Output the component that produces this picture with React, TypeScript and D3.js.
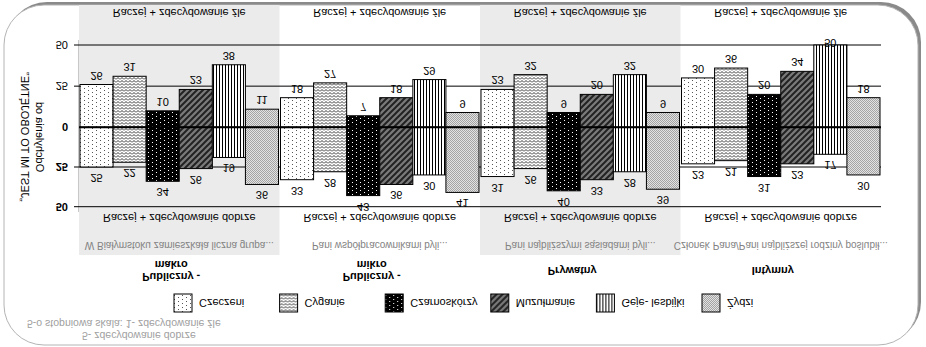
import * as d3 from "d3";

// the whole chart is shown mirrored top-to-bottom, so it is drawn upright and flipped at the end
const groups = ["Publiczny - makro", "Publiczny - mikro", "Prywatny", "Intymny"];
const groupLines = [["Publiczny -", "makro"], ["Publiczny -", "mikro"], ["Prywatny"], ["Intymny"]];
const questions = [
  "W Białymstoku zamieszkała liczna grupa...",
  "Pani współpracownikami byli...",
  "Pani najbliższymi sąsiadami byli...",
  "Członek Pana/Pani najbliższej rodziny poślubił...",
];
const series = ["Czeczeni", "Cyganie", "Czarnoskórzy", "Muzułmanie", "Geje- lesbijki", "Żydzi"];

// "Raczej + zdecydowanie źle"
const badMakro = [26, 31, 10, 23, 38, 11];
const badMikro = [18, 27, 7, 18, 29, 9];
const badPrywatny = [23, 32, 9, 20, 32, 9];
const badIntymny = [30, 36, 20, 34, 50, 18];
// "Raczej + zdecydowanie dobrze"
const goodMakro = [25, 22, 34, 26, 19, 36];
const goodMikro = [33, 28, 43, 36, 30, 41];
const goodPrywatny = [31, 26, 40, 33, 28, 39];
const goodIntymny = [23, 21, 31, 23, 17, 30];

const ticks = [-50, -25, 0, 25, 50];
const tickLabels = ["50", "25", "0", "25", "50"];

const bad = [badMakro, badMikro, badPrywatny, badIntymny];
const good = [goodMakro, goodMikro, goodPrywatny, goodIntymny];

const W = 926;
const H = 347;
const font = "'Liberation Sans', Arial, sans-serif";

export default function App() {
  const x0 = d3.scaleBand().domain(groups).range([79, 881]).padding(0);
  const x1 = d3.scaleBand().domain(series).range([0, x0.bandwidth()]).paddingInner(0).paddingOuter(0.03);
  // negative = "źle", positive = "dobrze"
  const y = d3.scaleLinear().domain([-50, 0, 50]).range([H - 45, H - 127.3, H - 206.7]);
  const lx = d3.scalePoint().domain(series).range([174, 702]);

  const bars = groups.flatMap((g, gi) =>
    series.map((s, si) => ({ g, gi, s, si, bad: bad[gi][si], good: good[gi][si] }))
  );

  return (
    <svg width={W} height={H} style={{ position: "absolute", left: 0, top: 0 }} fontFamily={font}>
      <defs>
        <pattern id="p0" width="8" height="4" patternUnits="userSpaceOnUse">
          <rect width="8" height="4" fill="#fff" />
          <rect x="0" y="0" width="1" height="1" fill="#555" />
          <rect x="4" y="2" width="1" height="1" fill="#555" />
        </pattern>
        <pattern id="p1" width="4" height="3" patternUnits="userSpaceOnUse">
          <rect width="4" height="3" fill="#fff" />
          <polyline points="0,0.5 2,2.5 4,0.5" fill="none" stroke="#333" strokeWidth="1" />
        </pattern>
        <pattern id="p2" width="8" height="4" patternUnits="userSpaceOnUse">
          <rect width="8" height="4" fill="#000" />
          <rect x="0" y="0" width="1" height="1" fill="#fff" />
          <rect x="4" y="2" width="1" height="1" fill="#fff" />
        </pattern>
        <pattern id="p3" width="6" height="6" patternUnits="userSpaceOnUse">
          <rect width="6" height="6" fill="#7a7a7a" />
          <path d="M0,0L6,6M-3,3L3,9M3,-3L9,3" stroke="#222" strokeWidth="2" />
        </pattern>
        <pattern id="p4" width="3" height="3" patternUnits="userSpaceOnUse">
          <rect width="3" height="3" fill="#fff" />
          <rect x="0" y="0" width="1" height="3" fill="#000" />
        </pattern>
        <pattern id="p5" width="2" height="2" patternUnits="userSpaceOnUse">
          <rect width="2" height="2" fill="#e2e2e2" />
          <rect x="0" y="0" width="1" height="1" fill="#a4a4a4" />
          <rect x="1" y="1" width="1" height="1" fill="#a4a4a4" />
        </pattern>
      </defs>

      <g transform={`translate(0,${H}) scale(1,-1)`}>
        {/* frame with shadow */}
        <rect x={7} y={5} width={914} height={340} rx={40} fill="#8a8a8a" />
        <rect x={4} y={2} width={914} height={340} rx={40} fill="#fff" stroke="#b4b4b4" />

        {/* shaded groups */}
        {groups.filter((_, i) => i % 2 === 0).map((g) => (
          <rect key={g} x={x0(g)} y={92} width={x0.bandwidth()} height={250} fill="#ebebeb" />
        ))}

        {/* y axis */}
        <line x1={78.5} x2={78.5} y1={H - 40} y2={H - 212} stroke="#c8c8c8" />
        {ticks.filter((t) => t !== 0).map((t) => (
          <line key={t} x1={74} x2={881} y1={y(t)} y2={y(t)} stroke="#000" />
        ))}
        {ticks.map((t, i) => (
          <text
            key={t}
            x={68}
            y={y(t)}
            textAnchor="end"
            dominantBaseline="central"
            fontSize={11}
            fontWeight={t >= 0 ? "bold" : "normal"}
          >
            {tickLabels[i]}
          </text>
        ))}

        {/* bars */}
        {bars.map((d) => {
          const bx = (x0(d.g) as number) + (x1(d.s) as number);
          const bw = x1.bandwidth();
          return (
            <g key={d.g + d.s}>
              <rect x={bx} y={y(0)} width={bw} height={y(-d.bad) - y(0)} fill={`url(#p${d.si})`} stroke="#000" />
              <rect x={bx} y={y(d.good)} width={bw} height={y(0) - y(d.good)} fill={`url(#p${d.si})`} stroke="#000" />
            </g>
          );
        })}
        <line x1={79} x2={881} y1={y(0)} y2={y(0)} stroke="#000" strokeWidth={2} />

        {/* value labels */}
        {bars.map((d) => {
          const cx = (x0(d.g) as number) + (x1(d.s) as number) + x1.bandwidth() / 2;
          return (
            <g key={"l" + d.g + d.s} fontSize={11} textAnchor="middle">
              <text x={cx} y={Math.min(y(-d.bad) + 9, H - 43)} dominantBaseline="central">{d.bad}</text>
              <text x={cx} y={y(d.good) - 11} dominantBaseline="central">{d.good}</text>
            </g>
          );
        })}

        {/* group texts */}
        {groups.map((g, gi) => {
          const cx = (x0(g) as number) + x0.bandwidth() / 2;
          const lines = groupLines[gi];
          return (
            <g key={"t" + g} textAnchor="middle">
              <text x={cx} y={H - 13} fontSize={11} dominantBaseline="central">Raczej + zdecydowanie źle</text>
              <text x={cx} y={H - 218} fontSize={11} dominantBaseline="central">Raczej + zdecydowanie dobrze</text>
              <text x={cx} y={H - 245} fontSize={10} fill="#828282" dominantBaseline="central">{questions[gi]}</text>
              {lines.map((l, li) => (
                <text
                  key={l}
                  x={cx - 8}
                  y={76 + (li - (lines.length - 1) / 2) * 12}
                  fontSize={11}
                  fontWeight="bold"
                  dominantBaseline="central"
                >
                  {l}
                </text>
              ))}
            </g>
          );
        })}

        {/* y title */}
        <g transform={`translate(32.5,${H - 137})rotate(90)`} fontSize={11} textAnchor="middle">
          <text x={0} y={-7.5} dominantBaseline="central">Odchylenia od</text>
          <text x={0} y={7.5} dominantBaseline="central">„JEST MI TO OBOJĘTNE”</text>
        </g>

        {/* legend */}
        {series.map((s, si) => (
          <g key={"lg" + s} transform={`translate(${lx(s)},35)`}>
            <rect width={18} height={18} fill={`url(#p${si})`} stroke="#000" />
            <text x={25} y={9} fontSize={11} dominantBaseline="central">{s}</text>
          </g>
        ))}

        {/* footer */}
        <g fontSize={10.5} fill="#a0a0a0">
          <text x={27} y={23} dominantBaseline="central">5-o stopniowa skala: 1- zdecydowanie źle</text>
          <text x={82} y={11} dominantBaseline="central">5- zdecydowanie dobrze</text>
        </g>
      </g>
    </svg>
  );
}
